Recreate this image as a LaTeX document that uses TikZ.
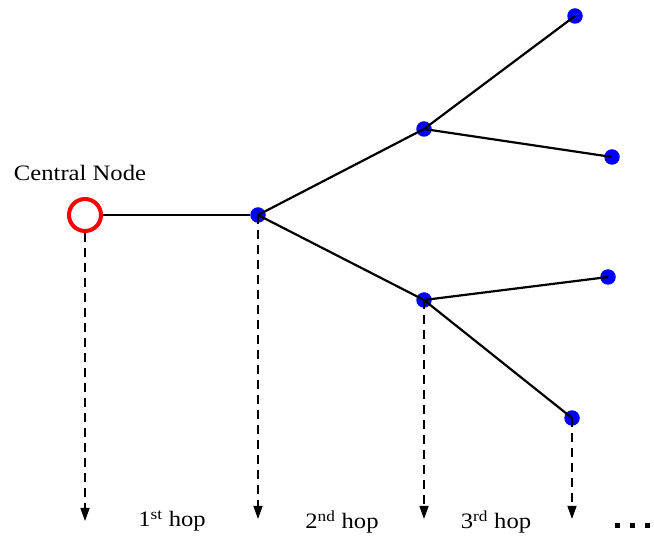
\documentclass[tikz,border=0pt]{standalone}
\usepackage{fontspec}
\setmainfont[FakeStretch=1.12]{Liberation Serif}
\usetikzlibrary{arrows.meta}
\begin{document}
\begin{tikzpicture}[x=1pt,y=-1pt,
  dot/.style={circle,fill=blue,inner sep=0pt,minimum size=15.5pt},
  central/.style={circle,draw=red,line width=4pt,inner sep=0pt,minimum size=32pt},
  edge/.style={line width=2.2pt},
  hopline/.style={line width=1.3pt,dash pattern=on 9pt off 6pt,-{Triangle[length=13pt,width=9pt]}},
  lbl/.style={font=\fontsize{22pt}{25pt}\selectfont,inner sep=0pt}]
\useasboundingbox (0,0) rectangle (654,537);
\node[central] (c) at (85,215) {};
\node[lbl] (cl) at (80,173) {Central Node};
\node[dot] (a) at (258,215) {};
\node[dot] (b1) at (424,129) {};
\node[dot] (b2) at (424,300) {};
\node[dot] (l1) at (575,16) {};
\node[dot] (l2) at (612,157) {};
\node[dot] (l3) at (608,277) {};
\node[dot] (l4) at (572,418) {};
\draw[edge] (c) -- (a);
\draw[edge] (a.center) -- (b1.center);
\draw[edge] (a.center) -- (b2.center);
\draw[edge] (b1.center) -- (l1.center);
\draw[edge] (b1.center) -- (l2.center);
\draw[edge] (b2.center) -- (l3.center);
\draw[edge] (b2.center) -- (l4.center);
\coordinate (e0) at (85,521);
\coordinate (e1) at (258,519);
\coordinate (e2) at (424,519);
\coordinate (e3) at (572,519);
\draw[hopline] (c.south) -- (e0);
\draw[hopline] (a.center) -- (e1);
\draw[hopline] (b2.center) -- (e2);
\draw[hopline] (l4.center) -- (e3);
\node[lbl] (h1) at (172,521) {1\textsuperscript{st} hop};
\node[lbl] (h2) at (342,522) {2\textsuperscript{nd} hop};
\node[lbl] (h3) at (496,522) {3\textsuperscript{rd} hop};
\foreach \i/\x in {1/617,2/632,3/647}
  \fill (\x-2.5,522.5) rectangle (\x+2.5,527.5);
\end{tikzpicture}
\end{document}
